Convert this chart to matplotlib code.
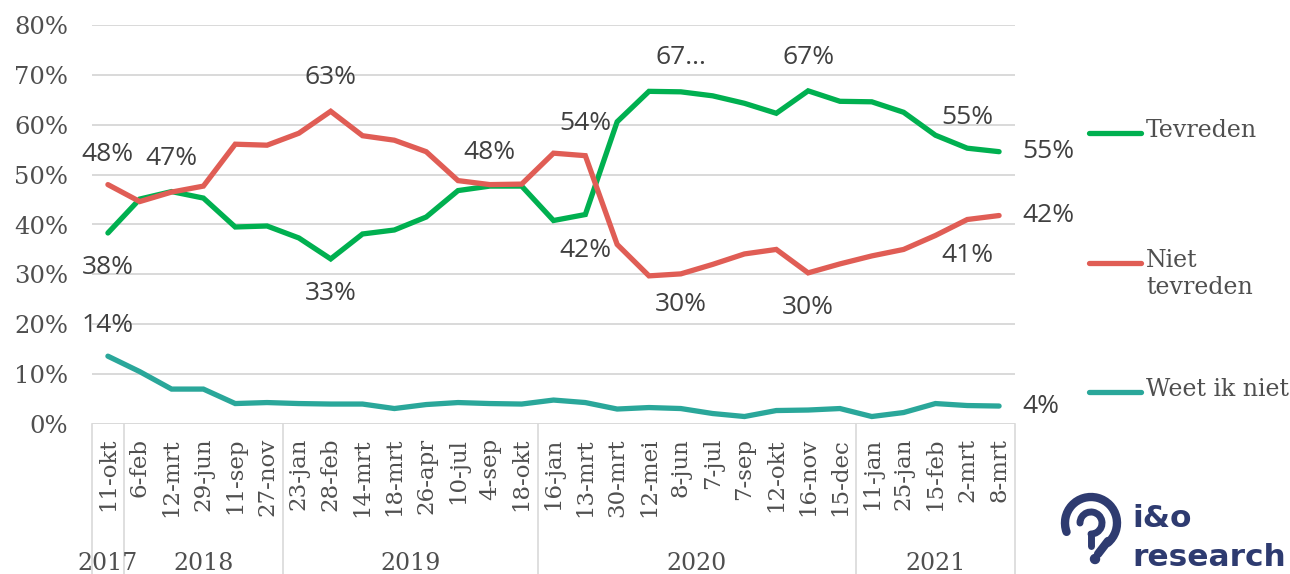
import numpy as np
import matplotlib.pyplot as plt
from matplotlib.lines import Line2D
from matplotlib.patches import Arc, Circle

W, H = 1290, 574

dates = ['11-okt', '6-feb', '12-mrt', '29-jun', '11-sep', '27-nov',
         '23-jan', '28-feb', '14-mrt', '18-mrt', '26-apr', '10-jul', '4-sep', '18-okt',
         '16-jan', '13-mrt', '30-mrt', '12-mei', '8-jun', '7-jul', '7-sep', '12-okt', '16-nov', '15-dec',
         '11-jan', '25-jan', '15-feb', '2-mrt', '8-mrt']
years = ['2017', '2018', '2019', '2020', '2021']
year_counts = [1, 5, 8, 10, 5]

tevreden = [38.3, 45.1, 46.6, 45.3, 39.5, 39.7, 37.3, 33.1, 38.1, 38.9, 41.5, 46.8, 47.7, 47.7,
            40.8, 42.0, 60.6, 66.7, 66.6, 65.8, 64.3, 62.3, 66.8, 64.7, 64.6, 62.5, 57.9, 55.3, 54.6]
niet_tevreden = [48.0, 44.6, 46.5, 47.7, 56.1, 55.9, 58.3, 62.7, 57.8, 56.9, 54.6, 48.8, 48.0, 48.1,
                 54.3, 53.8, 36.0, 29.7, 30.1, 32.0, 34.1, 35.0, 30.3, 32.1, 33.7, 35.0, 37.8, 41.0, 41.8]
weet_niet = [13.6, 10.5, 7.0, 7.0, 4.1, 4.3, 4.1, 4.0, 4.0, 3.1, 3.9, 4.3, 4.1, 4.0,
             4.8, 4.3, 3.0, 3.3, 3.1, 2.1, 1.5, 2.7, 2.8, 3.1, 1.5, 2.3, 4.1, 3.7, 3.6]

series = [tevreden, niet_tevreden, weet_niet]
names = ['Tevreden', 'Niet\ntevreden', 'Weet ik niet']
colors = ['#00B050', '#E05D55', '#2AA79A']

# (series index, point index, dy px up, override text)
labels = [(1, 0, 30, None), (0, 0, -35, None), (2, 0, 31, None),
          (0, 2, 33, None), (1, 7, 34, None), (0, 7, -35, None),
          (0, 12, 34, None), (1, 15, 32, None), (0, 15, -36, None),
          (0, 18, 34, '67...'), (1, 18, -31, None), (0, 22, 33, None),
          (1, 22, -35, None), (0, 27, 31, None), (1, 27, -36, None)]

serif = 'DejaVu Serif'
sans = 'Open Sans'
grey = '#4F4F4F'
grid = '#D9D9D9'

fig = plt.figure(figsize=(W / 100, H / 100), dpi=100)
ax = fig.add_axes([92 / W, 150 / H, (1015 - 92) / W, (424 - 25) / H])

x = np.arange(len(dates))
for vals, c in zip(series, colors):
    ax.plot(x, vals, color=c, lw=3.8, solid_joinstyle='miter', solid_capstyle='round', zorder=3)

ax.set_xlim(-0.5, len(dates) - 0.5)
ax.set_ylim(0, 80)
ax.set_yticks(range(0, 81, 10))
ax.set_yticklabels(['{}%'.format(v) for v in range(0, 81, 10)], fontfamily=serif, fontsize=17.5, color=grey)
ax.set_xticks(x)
ax.set_xticklabels(dates, rotation=90, fontfamily=serif, fontsize=16.5, color=grey)
ax.tick_params(axis='both', length=0)
ax.tick_params(axis='y', pad=17)
ax.tick_params(axis='x', pad=10)
ax.grid(axis='y', color=grid, lw=1.4)
ax.set_axisbelow(True)
for s in ax.spines.values():
    s.set_visible(False)

# year groups under the dates
trans = ax.get_xaxis_transform()
bounds = np.concatenate([[0], np.cumsum(year_counts)]) - 0.5
for b in bounds:
    ax.plot([b, b], [0, -0.4], color=grid, lw=1.2, transform=trans, clip_on=False)
for i, yr in enumerate(years):
    ax.text((bounds[i] + bounds[i + 1]) / 2, -0.35, yr, transform=trans, ha='center', va='center',
            fontfamily=serif, fontsize=17, color=grey)

# data labels
for si, pi, dy, txt in labels:
    v = series[si][pi]
    ax.annotate(txt or '{:.0f}%'.format(v), (pi, v), xytext=(0, dy * 0.72),
                textcoords='offset points', ha='center', va='center',
                fontfamily=sans, fontsize=19, color='#404040')
for vals in series:
    ax.annotate('{:.0f}%'.format(vals[-1]), (len(vals) - 1, vals[-1]), xytext=(17, 0),
                textcoords='offset points', ha='left', va='center',
                fontfamily=sans, fontsize=19, color='#404040')

# legend
for ly, name, c in zip([133, 263, 392], names, colors):
    fig.add_artist(Line2D([1089 / W, 1141 / W], [1 - ly / H, 1 - ly / H], color=c, lw=3.8,
                          solid_capstyle='round', transform=fig.transFigure))
    fig.text(1146 / W, 1 - (ly - 14) / H, name, ha='left', va='top', fontfamily=serif,
             fontsize=17, color=grey, linespacing=1.2)

# logo
lax = fig.add_axes([1050 / W, 0, 240 / W, 84 / H])
lax.set_xlim(1050, 1290)
lax.set_ylim(0, 84)
lax.axis('off')
navy = '#2E3B70'
lax.add_patch(Arc((1091, 51), 52, 52, theta1=-50, theta2=200, lw=6, color=navy, capstyle='round'))
lax.add_patch(Arc((1091, 51), 22, 22, theta1=-90, theta2=180, lw=5, color=navy, capstyle='round'))
lax.plot([1091, 1091], [40, 28], color=navy, lw=5, solid_capstyle='round')
lax.plot([1108, 1098], [33, 20], color=navy, lw=6, solid_capstyle='round')
lax.add_patch(Circle((1095, 15), 4.5, color=navy))
lax.text(1132, 47, 'i&o', fontfamily='DejaVu Sans', fontweight='bold', fontsize=22.5, color=navy,
         va='baseline', ha='left')
lax.text(1132, 8, 'research', fontfamily='DejaVu Sans', fontweight='bold', fontsize=22.5, color=navy,
         va='baseline', ha='left')

fig.savefig('out.png', dpi=100)
